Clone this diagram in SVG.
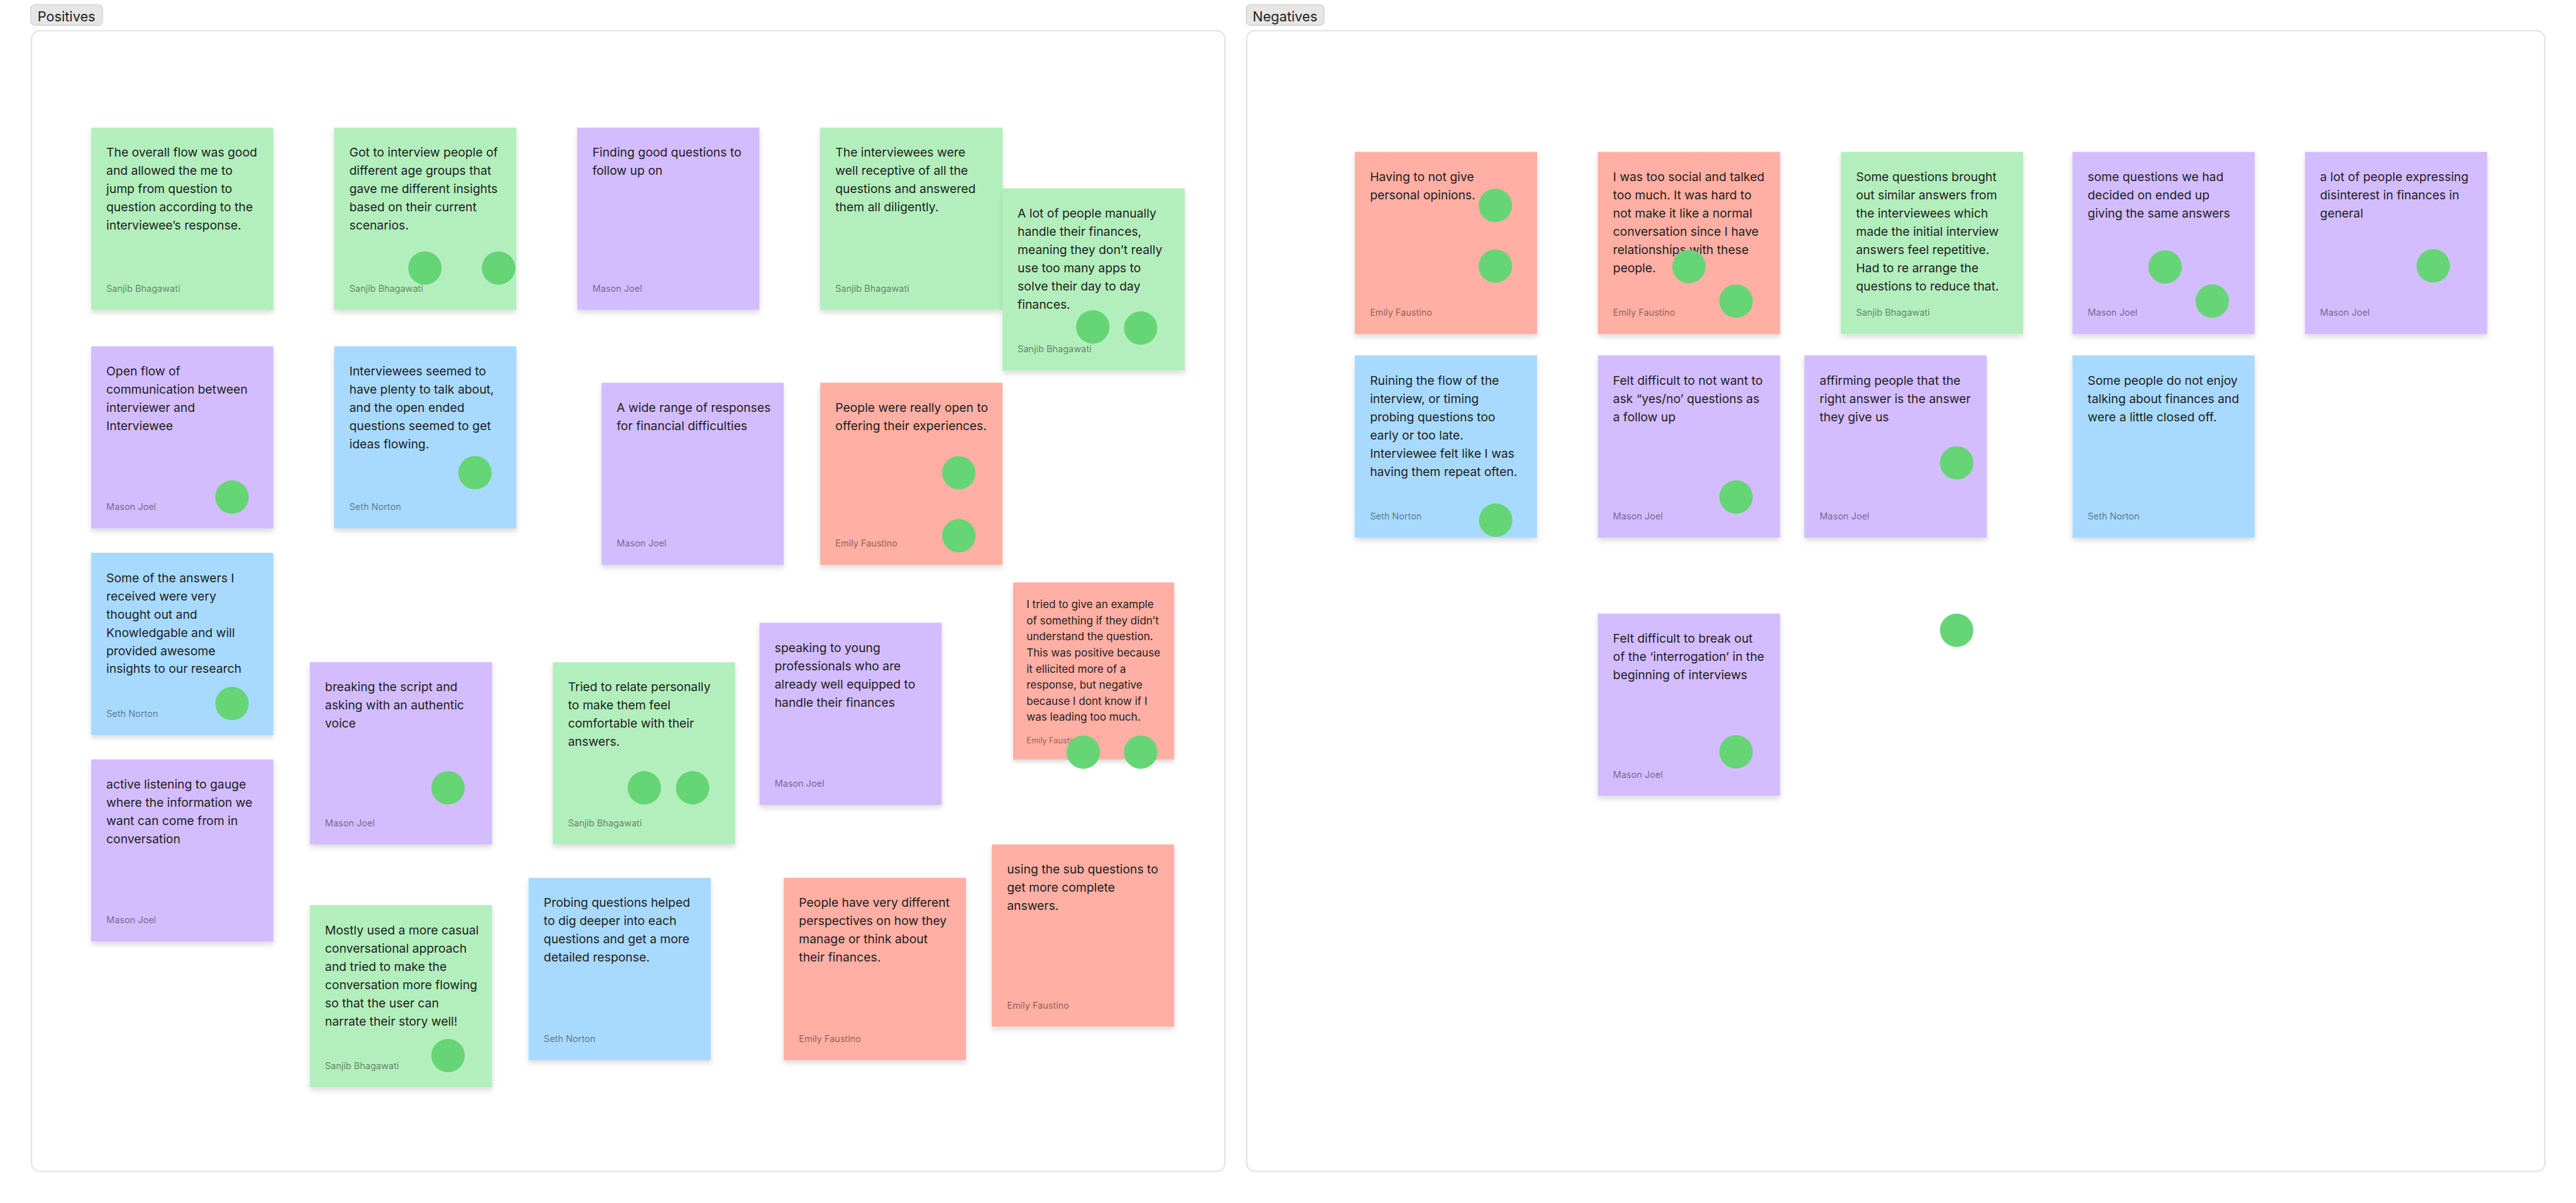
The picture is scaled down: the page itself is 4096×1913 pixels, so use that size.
<svg xmlns="http://www.w3.org/2000/svg" width="4096" height="1913" viewBox="0 0 4096 1913">
<style>
.frame{fill:#ffffff;stroke:#e5e5e5;stroke-width:4}
.tag{fill:#e6e6e6;stroke:#c9ccd1;stroke-width:2}
.tagtext{font-family:Inter,"Noto Sans","Liberation Sans",sans-serif;font-size:36px;fill:#1e1e1e}
.note{filter:url(#sh)}
.g{fill:#b3efbd}
.p{fill:#d3bdff}
.b{fill:#a8daff}
.r{fill:#ffafa3}
.body{font-family:Inter,"Noto Sans","Liberation Sans",sans-serif;font-size:32px;fill:#1e1e1e}
.author{font-family:Inter,"Noto Sans","Liberation Sans",sans-serif;font-size:24px;fill:#000000;fill-opacity:0.48}
.dot{fill:#66d575}
</style>
<defs>
<filter id="sh" x="-10%" y="-10%" width="120%" height="130%">
<feDropShadow dx="0" dy="8" stdDeviation="7" flood-color="#000" flood-opacity="0.14"/>
</filter>
</defs>
<rect x="0" y="0" width="4096" height="1913" fill="#ffffff"/>
<g transform="scale(0.603774)">
<g id="frame-positives">
<rect class="frame" x="83" y="81" width="3143" height="3004" rx="22"/>
<rect class="tag" x="81" y="12" width="189" height="55" rx="12"/>
<text class="tagtext" x="99" y="56">Positives</text>
</g>
<g id="frame-negatives">
<rect class="frame" x="3283" y="81" width="3419" height="3004" rx="22"/>
<rect class="tag" x="3282" y="12" width="205" height="55" rx="12"/>
<text class="tagtext" x="3299" y="56">Negatives</text>
</g>

<g id="n1"><rect class="note g" x="240" y="336" width="480" height="480"/>
<text class="body" y="413"><tspan x="280">The overall flow was good</tspan><tspan x="280" dy="48">and allowed the me to</tspan><tspan x="280" dy="48">jump from question to</tspan><tspan x="280" dy="48">question according to the</tspan><tspan x="280" dy="48">interviewee’s response.</tspan></text>
<text class="author" x="280" y="768">Sanjib Bhagawati</text></g>

<g id="n2"><rect class="note g" x="880" y="336" width="480" height="480"/>
<text class="body" y="413"><tspan x="920">Got to interview people of</tspan><tspan x="920" dy="48">different age groups that</tspan><tspan x="920" dy="48">gave me different insights</tspan><tspan x="920" dy="48">based on their current</tspan><tspan x="920" dy="48">scenarios.</tspan></text>
<text class="author" x="920" y="768">Sanjib Bhagawati</text></g>

<g id="n3"><rect class="note p" x="1520" y="336" width="480" height="480"/>
<text class="body" y="413"><tspan x="1560">Finding good questions to</tspan><tspan x="1560" dy="48">follow up on</tspan></text>
<text class="author" x="1560" y="768">Mason Joel</text></g>

<g id="n4"><rect class="note g" x="2160" y="336" width="480" height="480"/>
<text class="body" y="413"><tspan x="2200">The interviewees were</tspan><tspan x="2200" dy="48">well receptive of all the</tspan><tspan x="2200" dy="48">questions and answered</tspan><tspan x="2200" dy="48">them all diligently.</tspan></text>
<text class="author" x="2200" y="768">Sanjib Bhagawati</text></g>

<g id="n5"><rect class="note g" x="2640" y="496" width="480" height="480"/>
<text class="body" y="573"><tspan x="2680">A lot of people manually</tspan><tspan x="2680" dy="48">handle their finances,</tspan><tspan x="2680" dy="48">meaning they don’t really</tspan><tspan x="2680" dy="48">use too many apps to</tspan><tspan x="2680" dy="48">solve their day to day</tspan><tspan x="2680" dy="48">finances.</tspan></text>
<text class="author" x="2680" y="928">Sanjib Bhagawati</text></g>

<g id="n6"><rect class="note p" x="240" y="912" width="480" height="480"/>
<text class="body" y="989"><tspan x="280">Open flow of</tspan><tspan x="280" dy="48">communication between</tspan><tspan x="280" dy="48">interviewer and</tspan><tspan x="280" dy="48">Interviewee</tspan></text>
<text class="author" x="280" y="1344">Mason Joel</text></g>

<g id="n7"><rect class="note b" x="880" y="912" width="480" height="480"/>
<text class="body" y="989"><tspan x="920">Interviewees seemed to</tspan><tspan x="920" dy="48">have plenty to talk about,</tspan><tspan x="920" dy="48">and the open ended</tspan><tspan x="920" dy="48">questions seemed to get</tspan><tspan x="920" dy="48">ideas flowing.</tspan></text>
<text class="author" x="920" y="1344">Seth Norton</text></g>

<g id="n8"><rect class="note p" x="1584" y="1008" width="480" height="480"/>
<text class="body" y="1085"><tspan x="1624">A wide range of responses</tspan><tspan x="1624" dy="48">for financial difficulties</tspan></text>
<text class="author" x="1624" y="1440">Mason Joel</text></g>

<g id="n9"><rect class="note r" x="2160" y="1008" width="480" height="480"/>
<text class="body" y="1085"><tspan x="2200">People were really open to</tspan><tspan x="2200" dy="48">offering their experiences.</tspan></text>
<text class="author" x="2200" y="1440">Emily Faustino</text></g>

<g id="n10"><rect class="note b" x="240" y="1456" width="480" height="480"/>
<text class="body" y="1533"><tspan x="280">Some of the answers I</tspan><tspan x="280" dy="48">received were very</tspan><tspan x="280" dy="48">thought out and</tspan><tspan x="280" dy="48">Knowledgable and will</tspan><tspan x="280" dy="48">provided awesome</tspan><tspan x="280" dy="48">insights to our research</tspan></text>
<text class="author" x="280" y="1888">Seth Norton</text></g>

<g id="n11" transform="translate(2668,1534) scale(0.8833)"><rect class="note r" x="0" y="0" width="480" height="528"/>
<text class="body" y="77"><tspan x="40">I tried to give an example</tspan><tspan x="40" dy="48">of something if they didn’t</tspan><tspan x="40" dy="48">understand the question.</tspan><tspan x="40" dy="48">This was positive because</tspan><tspan x="40" dy="48">it ellicited more of a</tspan><tspan x="40" dy="48">response, but negative</tspan><tspan x="40" dy="48">because I dont know if I</tspan><tspan x="40" dy="48">was leading too much.</tspan></text>
<text class="author" x="40" y="480">Emily Faustino</text></g>

<g id="n12"><rect class="note p" x="2000" y="1640" width="480" height="480"/>
<text class="body" y="1717"><tspan x="2040">speaking to young</tspan><tspan x="2040" dy="48">professionals who are</tspan><tspan x="2040" dy="48">already well equipped to</tspan><tspan x="2040" dy="48">handle their finances</tspan></text>
<text class="author" x="2040" y="2072">Mason Joel</text></g>

<g id="n13"><rect class="note p" x="816" y="1744" width="480" height="480"/>
<text class="body" y="1821"><tspan x="856">breaking the script and</tspan><tspan x="856" dy="48">asking with an authentic</tspan><tspan x="856" dy="48">voice</tspan></text>
<text class="author" x="856" y="2176">Mason Joel</text></g>

<g id="n14"><rect class="note g" x="1456" y="1744" width="480" height="480"/>
<text class="body" y="1821"><tspan x="1496">Tried to relate personally</tspan><tspan x="1496" dy="48">to make them feel</tspan><tspan x="1496" dy="48">comfortable with their</tspan><tspan x="1496" dy="48">answers.</tspan></text>
<text class="author" x="1496" y="2176">Sanjib Bhagawati</text></g>

<g id="n15"><rect class="note p" x="240" y="2000" width="480" height="480"/>
<text class="body" y="2077"><tspan x="280">active listening to gauge</tspan><tspan x="280" dy="48">where the information we</tspan><tspan x="280" dy="48">want can come from in</tspan><tspan x="280" dy="48">conversation</tspan></text>
<text class="author" x="280" y="2432">Mason Joel</text></g>

<g id="n16"><rect class="note r" x="2612" y="2224" width="480" height="480"/>
<text class="body" y="2301"><tspan x="2652">using the sub questions to</tspan><tspan x="2652" dy="48">get more complete</tspan><tspan x="2652" dy="48">answers.</tspan></text>
<text class="author" x="2652" y="2656">Emily Faustino</text></g>

<g id="n17"><rect class="note r" x="2064" y="2312" width="480" height="480"/>
<text class="body" y="2389"><tspan x="2104">People have very different</tspan><tspan x="2104" dy="48">perspectives on how they</tspan><tspan x="2104" dy="48">manage or think about</tspan><tspan x="2104" dy="48">their finances.</tspan></text>
<text class="author" x="2104" y="2744">Emily Faustino</text></g>

<g id="n18"><rect class="note b" x="1392" y="2312" width="480" height="480"/>
<text class="body" y="2389"><tspan x="1432">Probing questions helped</tspan><tspan x="1432" dy="48">to dig deeper into each</tspan><tspan x="1432" dy="48">questions and get a more</tspan><tspan x="1432" dy="48">detailed response.</tspan></text>
<text class="author" x="1432" y="2744">Seth Norton</text></g>

<g id="n19"><rect class="note g" x="816" y="2384" width="480" height="480"/>
<text class="body" y="2461"><tspan x="856">Mostly used a more casual</tspan><tspan x="856" dy="48">conversational approach</tspan><tspan x="856" dy="48">and tried to make the</tspan><tspan x="856" dy="48">conversation more flowing</tspan><tspan x="856" dy="48">so that the user can</tspan><tspan x="856" dy="48">narrate their story well!</tspan></text>
<text class="author" x="856" y="2816">Sanjib Bhagawati</text></g>

<g id="n20"><rect class="note r" x="3568" y="400" width="480" height="480"/>
<text class="body" y="477"><tspan x="3608">Having to not give</tspan><tspan x="3608" dy="48">personal opinions.</tspan></text>
<text class="author" x="3608" y="832">Emily Faustino</text></g>

<g id="n21"><rect class="note r" x="4208" y="400" width="480" height="480"/>
<text class="body" y="477"><tspan x="4248">I was too social and talked</tspan><tspan x="4248" dy="48">too much. It was hard to</tspan><tspan x="4248" dy="48">not make it like a normal</tspan><tspan x="4248" dy="48">conversation since I have</tspan><tspan x="4248" dy="48">relationships with these</tspan><tspan x="4248" dy="48">people.</tspan></text>
<text class="author" x="4248" y="832">Emily Faustino</text></g>

<g id="n22"><rect class="note g" x="4848" y="400" width="480" height="480"/>
<text class="body" y="477"><tspan x="4888">Some questions brought</tspan><tspan x="4888" dy="48">out similar answers from</tspan><tspan x="4888" dy="48">the interviewees which</tspan><tspan x="4888" dy="48">made the initial interview</tspan><tspan x="4888" dy="48">answers feel repetitive.</tspan><tspan x="4888" dy="48">Had to re arrange the</tspan><tspan x="4888" dy="48">questions to reduce that.</tspan></text>
<text class="author" x="4888" y="832">Sanjib Bhagawati</text></g>

<g id="n23"><rect class="note p" x="5458" y="400" width="480" height="480"/>
<text class="body" y="477"><tspan x="5498">some questions we had</tspan><tspan x="5498" dy="48">decided on ended up</tspan><tspan x="5498" dy="48">giving the same answers</tspan></text>
<text class="author" x="5498" y="832">Mason Joel</text></g>

<g id="n24"><rect class="note p" x="6070" y="400" width="480" height="480"/>
<text class="body" y="477"><tspan x="6110">a lot of people expressing</tspan><tspan x="6110" dy="48">disinterest in finances in</tspan><tspan x="6110" dy="48">general</tspan></text>
<text class="author" x="6110" y="832">Mason Joel</text></g>

<g id="n25"><rect class="note b" x="3568" y="936" width="480" height="480"/>
<text class="body" y="1013"><tspan x="3608">Ruining the flow of the</tspan><tspan x="3608" dy="48">interview, or timing</tspan><tspan x="3608" dy="48">probing questions too</tspan><tspan x="3608" dy="48">early or too late.</tspan><tspan x="3608" dy="48">Interviewee felt like I was</tspan><tspan x="3608" dy="48">having them repeat often.</tspan></text>
<text class="author" x="3608" y="1368">Seth Norton</text></g>

<g id="n26"><rect class="note p" x="4208" y="936" width="480" height="480"/>
<text class="body" y="1013"><tspan x="4248">Felt difficult to not want to</tspan><tspan x="4248" dy="48">ask “yes/no’ questions as</tspan><tspan x="4248" dy="48">a follow up</tspan></text>
<text class="author" x="4248" y="1368">Mason Joel</text></g>

<g id="n27"><rect class="note p" x="4752" y="936" width="480" height="480"/>
<text class="body" y="1013"><tspan x="4792">affirming people that the</tspan><tspan x="4792" dy="48">right answer is the answer</tspan><tspan x="4792" dy="48">they give us</tspan></text>
<text class="author" x="4792" y="1368">Mason Joel</text></g>

<g id="n28"><rect class="note b" x="5458" y="936" width="480" height="480"/>
<text class="body" y="1013"><tspan x="5498">Some people do not enjoy</tspan><tspan x="5498" dy="48">talking about finances and</tspan><tspan x="5498" dy="48">were a little closed off.</tspan></text>
<text class="author" x="5498" y="1368">Seth Norton</text></g>

<g id="n29"><rect class="note p" x="4208" y="1616" width="480" height="480"/>
<text class="body" y="1693"><tspan x="4248">Felt difficult to break out</tspan><tspan x="4248" dy="48">of the ‘interrogation’ in the</tspan><tspan x="4248" dy="48">beginning of interviews</tspan></text>
<text class="author" x="4248" y="2048">Mason Joel</text></g>

<g id="stamps">
<circle class="dot" cx="1119" cy="706" r="44"/>
<circle class="dot" cx="1313" cy="706" r="44"/>
<circle class="dot" cx="2878" cy="861" r="44"/>
<circle class="dot" cx="3004" cy="864" r="44"/>
<circle class="dot" cx="611" cy="1309" r="44"/>
<circle class="dot" cx="1251" cy="1245" r="44"/>
<circle class="dot" cx="2525" cy="1245" r="44"/>
<circle class="dot" cx="2525" cy="1411" r="44"/>
<circle class="dot" cx="611" cy="1853" r="44"/>
<circle class="dot" cx="2853" cy="1981" r="44"/>
<circle class="dot" cx="3004" cy="1981" r="44"/>
<circle class="dot" cx="1180" cy="2075" r="44"/>
<circle class="dot" cx="1697" cy="2075" r="44"/>
<circle class="dot" cx="1824" cy="2075" r="44"/>
<circle class="dot" cx="1180" cy="2780" r="44"/>
<circle class="dot" cx="3938" cy="541" r="44"/>
<circle class="dot" cx="3938" cy="701" r="44"/>
<circle class="dot" cx="4448" cy="702" r="44"/>
<circle class="dot" cx="4572" cy="793" r="44"/>
<circle class="dot" cx="5702" cy="703" r="44"/>
<circle class="dot" cx="5826" cy="793" r="44"/>
<circle class="dot" cx="6408" cy="700" r="44"/>
<circle class="dot" cx="3939" cy="1370" r="44"/>
<circle class="dot" cx="4572" cy="1309" r="44"/>
<circle class="dot" cx="5153" cy="1219" r="44"/>
<circle class="dot" cx="4572" cy="1980" r="44"/>
<circle class="dot" cx="5153" cy="1660" r="44"/>
</g>
<g id="connectors"/>
</g>
</svg>
